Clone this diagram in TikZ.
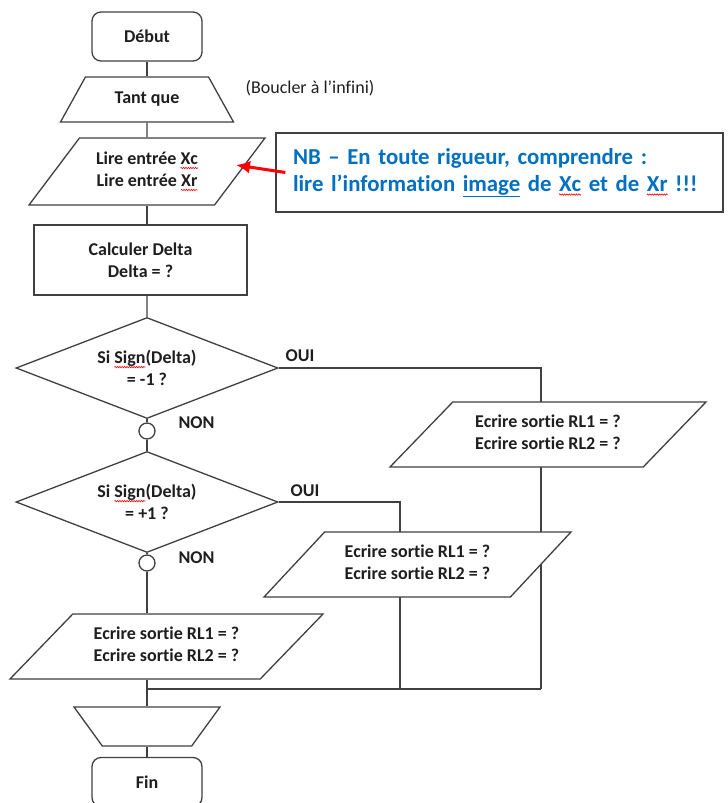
\documentclass[tikz,border=0pt]{standalone}
\usepackage{fontspec}
\setmainfont{Carlito}[Ligatures=NoCommon]
\usetikzlibrary{shapes.geometric,arrows.meta,backgrounds,decorations.pathmorphing}

\definecolor{nbblau}{RGB}{0,112,192}
\definecolor{linie}{RGB}{64,64,64}
\definecolor{schrift}{RGB}{30,30,30}

% rote Wellenlinie (Rechtschreibfehler)
\newdimen\fehlerbreite
\newcommand\fehler[1]{\leavevmode\setbox0\hbox{#1}\fehlerbreite=\wd0\rlap{\box0}%
  \tikz[baseline=0pt, x=1pt, y=1pt]{\useasboundingbox (0pt,0pt) rectangle (\fehlerbreite,0pt);
    \draw[red, line width=0.6pt, decorate, decoration={zigzag, segment length=2.4pt, amplitude=0.7pt}]
      (0pt,-3.5pt) -- (\fehlerbreite,-3.5pt);}}

\tikzset{
  grund/.style={draw=linie, line width=1.3pt, fill=white, text=schrift,
    font=\fontsize{18}{22}\selectfont\bfseries, align=center, inner sep=0pt},
  einzeilig/.style={text height=13pt, text depth=5pt},
  zweizeilig/.style={text height=35pt, text depth=5pt},
  endbox/.style={grund, rectangle, rounded corners=9pt, minimum width=110pt, minimum height=49pt},
  procbox/.style={grund, rectangle, minimum width=213pt, minimum height=70pt},
  trapbox/.style={grund, trapezium, trapezium angle=#1, trapezium stretches body},
  iobox/.style={grund, zweizeilig, trapezium, trapezium left angle=#1, trapezium right angle={180-#1},
    trapezium stretches body, inner ysep=12.5pt},
  testbox/.style={grund, diamond, aspect=2.6, minimum width=262pt, minimum height=101pt},
  knoten/.style={draw=linie, line width=1.3pt, fill=white, circle, minimum size=16pt, inner sep=0pt},
  beschr/.style={text=schrift, font=\fontsize{18}{22}\selectfont\bfseries, inner sep=0pt},
  nbbox/.style={draw=linie, line width=1.3pt, fill=white, text=nbblau,
    font=\fontsize{22.8}{27}\selectfont\bfseries, align=left, text width=413pt,
    inner xsep=17pt, inner ysep=0pt, minimum height=79pt},
  verb/.style={draw=linie, line width=1.3pt},
}

\begin{document}
\begin{tikzpicture}[x=1pt, y=-1pt]
  \useasboundingbox (0,0) rectangle (728,803);

  % zeichne Hauptspalte
  \node[endbox] (debut) at (147,36.5) {Début};
  \node[trapbox=61, einzeilig, inner ysep=13.5pt, minimum width=173pt] (tantque) at (147,99.5) {Tant que};
  \node[iobox=53, inner ysep=13.5pt, minimum width=236pt] (lire) at (147,171.5)
    {Lire entrée \fehler{Xc}\\Lire entrée \fehler{Xr}};
  \node[procbox] (calc) at (140.5,260) {Calculer Delta\\Delta = ?};
  \node[testbox] (si1) at (147,368) {Si \fehler{Sign}(Delta)\\= -1 ?};
  \node[knoten] (c1) at (147,431) {};
  \node[testbox] (si2) at (147,502) {Si \fehler{Sign}(Delta)\\= +1 ?};
  \node[knoten] (c2) at (147,563) {};
  \node[iobox=46, minimum width=313pt] (ecr3) at (166.5,646.5)
    {Ecrire sortie RL1 = ?\\Ecrire sortie RL2 = ?};
  \node[trapbox=126, text height=0pt, text depth=0pt, inner ysep=19.5pt, minimum width=146pt] (fintq) at (147,726.5) {};
  \node[endbox] (fin) at (147,782) {Fin};

  % zeichne Zweige
  \node[iobox=46, minimum width=316pt] (ecr1) at (548,434.5)
    {Ecrire sortie RL1 = ?\\Ecrire sortie RL2 = ?};
  \node[iobox=47, minimum width=307pt] (ecr2) at (417.5,564.5)
    {Ecrire sortie RL1 = ?\\Ecrire sortie RL2 = ?};
  \coordinate (rechts) at (541,689);
  \coordinate (mitte) at (400,689);

  % zeichne Labels
  \node[font=\fontsize{18}{22}\selectfont, text=schrift] (boucle) at (310,88) {(Boucler à l’infini)};
  \node[beschr] (oui1) at (300,356) {OUI};
  \node[beschr] (oui2) at (305,491) {OUI};
  \node[beschr] (non1) at (196.5,423) {NON};
  \node[beschr] (non2) at (196.5,558) {NON};

  % zeichne Hinweis
  \node[nbbox] (nb) at (499.5,172.5)
    {NB – En toute rigueur, comprendre :\\lire l’information \underline{image} de \fehler{Xc} et de \fehler{Xr} !!!};
  \coordinate (pointe) at (236,165);
  \draw[red, line width=3pt, -{Latex[length=14pt,width=13pt]}] ([xshift=10pt]nb.west) -- (pointe);

  % zeichne Verbindungen
  \begin{scope}[on background layer]
    \draw[verb] (debut) -- (tantque);
    \draw[verb] (tantque) -- (lire);
    \draw[verb] (lire.south) -- (lire.south |- calc.north);
    \draw[verb] (lire.south |- calc.south) -- (si1.north);
    \draw[verb] (si1) -- (c1) -- (si2) -- (c2);
    \draw[verb] (c2) -- (c2 |- ecr3.north);
    \draw[verb] (c2 |- ecr3.south) -- (fintq.north);
    \draw[verb] (fintq) -- (fin);
    \draw[verb] (si1.east) -| (rechts);
    \draw[verb] (si2.east) -| (mitte);
    \draw[verb] (rechts) -- (c2 |- rechts);
  \end{scope}
\end{tikzpicture}
\end{document}
